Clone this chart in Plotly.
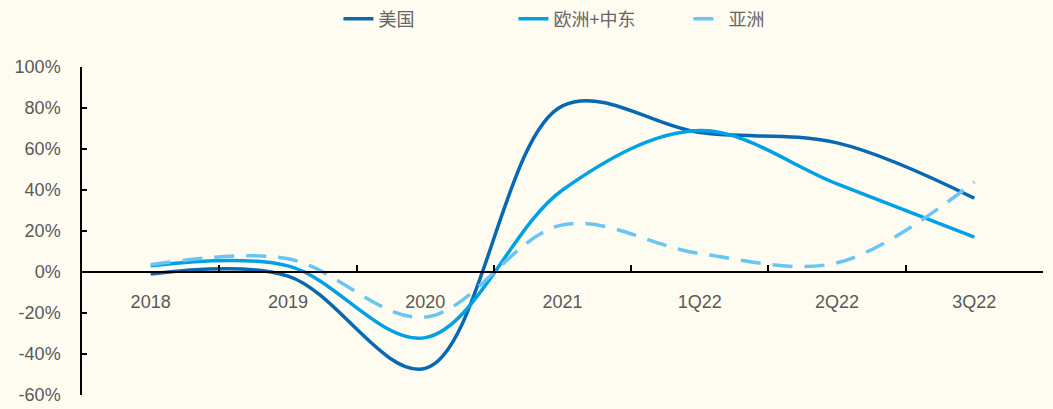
import plotly.graph_objects as go

# Quarterly / annual growth by region (%)
periods = ["2018", "2019", "2020", "2021", "1Q22", "2Q22", "3Q22"]
usa = [-1, -2, -47, 81, 68, 63, 36]
europe_me = [3, 3, -32, 40, 69, 43, 17]
asia = [3.5, 6.5, -22, 23, 9, 4.5, 44]

y_ticks = [-60, -40, -20, 0, 20, 40, 60, 80, 100]
y_labels = [f"{v}%" for v in y_ticks]

bg = "#FEFBF0"
txt = "#595959"

fig = go.Figure()
fig.add_trace(go.Scatter(
    x=periods, y=usa, name="美国", mode="lines",
    line=dict(color="#0868B2", width=3.5, shape="spline", smoothing=1.0),
))
fig.add_trace(go.Scatter(
    x=periods, y=europe_me, name="欧洲+中东", mode="lines",
    line=dict(color="#00A1E6", width=3.5, shape="spline", smoothing=1.0),
))
fig.add_trace(go.Scatter(
    x=periods, y=asia, name="亚洲", mode="lines",
    line=dict(color="#68C6F4", width=3.5, shape="spline", smoothing=1.0,
              dash="20px,12px"),
))

fig.update_layout(
    width=1053, height=409,
    margin=dict(l=82, r=10, t=67, b=14, autoexpand=False),
    paper_bgcolor=bg, plot_bgcolor=bg,
    font=dict(family="Liberation Sans, Arial, sans-serif", size=18, color=txt),
    showlegend=True,
    legend=dict(
        orientation="h", x=0.54, xanchor="center", y=1.146, yanchor="middle",
        font=dict(family="Noto Sans CJK SC", size=18, color="#666666"),
        bgcolor="rgba(0,0,0,0)", entrywidth=130, entrywidthmode="pixels",
    ),
    xaxis=dict(
        type="category", range=[-0.5, 6.5],
        anchor="free", position=0.375,
        showline=True, linecolor="black", linewidth=1.5,
        ticks="inside", ticklen=6, tickwidth=1.5, tickcolor="black",
        tickson="boundaries", showgrid=False, zeroline=False,
        ticklabelstandoff=14,
        tickfont=dict(size=18, color=txt),
    ),
    yaxis=dict(
        range=[-60, 100], tickvals=y_ticks, ticktext=y_labels,
        showline=True, linecolor="black", linewidth=1.5,
        ticks="inside", ticklen=5, tickwidth=1.5, tickcolor="black",
        showgrid=False, zeroline=False,
        ticklabelstandoff=16,
        tickfont=dict(size=18, color=txt),
    ),
)

fig.write_html("out.html")
